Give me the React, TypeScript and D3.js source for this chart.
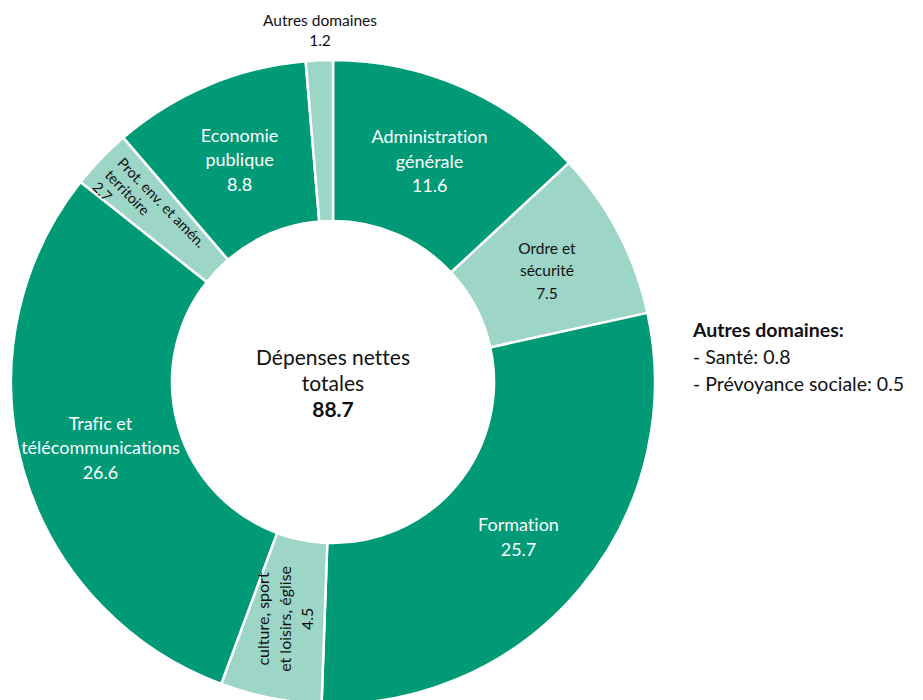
import * as d3 from 'd3'
import { useEffect, useRef } from 'react'

const categories = [
    'Administration générale',
    'Ordre et sécurité',
    'Formation',
    'culture, sport et loisirs, église',
    'Trafic et télécommunications',
    'Prot. env. et amén. territoire',
    'Economie publique',
    'Autres domaines',
]
const values = [11.6, 7.5, 25.7, 4.5, 26.6, 2.7, 8.8, 1.2]
const labelLines = [
    ['Administration', 'générale'],
    ['Ordre et', 'sécurité'],
    ['Formation'],
    ['culture, sport', 'et loisirs, église'],
    ['Trafic et', 'télécommunications'],
    ['Prot. env. et amén.', 'territoire'],
    ['Economie', 'publique'],
    ['Autres domaines'],
]
const lightSlices = ['Ordre et sécurité', 'culture, sport et loisirs, église', 'Prot. env. et amén. territoire', 'Autres domaines']
const totalLabel = ['Dépenses nettes', 'totales']
const totalValue = 88.7
const otherTitle = 'Autres domaines:'
const otherItems = ['Santé', 'Prévoyance sociale']
const otherValues = [0.8, 0.5]

const DARK = '#009a76'
const LIGHT = '#9dd5c7'
const FONT = 'Lato, "Open Sans", sans-serif'

const drawDonut = (el: SVGSVGElement) => {
    const svg = d3.select(el)
    svg.selectAll('*').remove()

    const cx = 333
    const cy = 382
    const outer = 322
    const inner = 161

    const g = svg.append('g').attr('transform', `translate(${cx},${cy})`)

    const data = categories.map((c, i) => ({ name: c, value: values[i], lines: labelLines[i] }))
    const pie = d3.pie<any>().sort(null).value(d => d.value)
    const arcs = pie(data)
    const arc = d3.arc<any>().innerRadius(inner).outerRadius(outer)

    g.selectAll('path.slice')
        .data(arcs)
        .enter()
        .append('path')
        .attr('class', 'slice')
        .attr('d', arc)
        .attr('fill', d => lightSlices.includes(d.data.name) ? LIGHT : DARK)
        .attr('stroke', '#fff')
        .attr('stroke-width', 2.5)

    arcs.forEach(a => {
        const name = a.data.name
        const isLight = lightSlices.includes(name)
        const color = isLight ? '#111' : '#fff'
        const lines = [...a.data.lines, d3.format('.1f')(a.data.value)]
        const [x, y] = arc.centroid(a)

        if (name === 'Autres domaines') {
            // outside label above the ring
            const t = g.append('text')
                .attr('text-anchor', 'middle')
                .attr('font-family', FONT)
                .attr('font-size', '15.5px')
                .attr('fill', '#111')
            lines.forEach((l, i) => {
                t.append('tspan').attr('x', -13).attr('y', 26 - cy + i * 20).text(l)
            })
            return
        }

        if (name === 'culture, sport et loisirs, église') {
            const t = g.append('text')
                .attr('transform', `translate(${x},${y}) rotate(-90)`)
                .attr('text-anchor', 'middle')
                .attr('dominant-baseline', 'central')
                .attr('font-family', FONT)
                .attr('font-size', '16px')
                .attr('fill', color)
            lines.forEach((l, i) => {
                t.append('tspan').attr('x', 0).attr('y', (i - 1) * 22 - 2).text(l)
            })
            return
        }

        if (name === 'Prot. env. et amén. territoire') {
            const angle = ((a.startAngle + a.endAngle) / 2) * 180 / Math.PI - 268
            const t = g.append('text')
                .attr('transform', `translate(${x},${y}) rotate(${angle})`)
                .attr('text-anchor', 'start')
                .attr('font-family', FONT)
                .attr('font-size', '14.5px')
                .attr('fill', color)
            lines.forEach((l, i) => {
                t.append('tspan').attr('x', -66).attr('y', -5 + i * 17.5).text(l)
            })
            return
        }

        const small = name === 'Ordre et sécurité'
        const lh = small ? 22.5 : 24.5
        const t = g.append('text')
            .attr('text-anchor', 'middle')
            .attr('dominant-baseline', 'central')
            .attr('font-family', FONT)
            .attr('font-size', small ? '15.5px' : '18px')
            .attr('fill', color)
        lines.forEach((l, i) => {
            t.append('tspan')
                .attr('x', x)
                .attr('y', y + (i - (lines.length - 1) / 2) * lh)
                .text(l)
        })
    })

    // total in the middle
    const c = g.append('text')
        .attr('text-anchor', 'middle')
        .attr('dominant-baseline', 'central')
        .attr('font-family', FONT)
        .attr('font-size', '21px')
        .attr('fill', '#111')
    totalLabel.forEach((l, i) => {
        c.append('tspan').attr('x', 0).attr('y', (i - 1) * 26).text(l)
    })
    c.append('tspan').attr('x', 0).attr('y', 26).attr('font-weight', 'bold').text(d3.format('.1f')(totalValue))

    // note on the right
    const note = svg.append('text')
        .attr('font-family', FONT)
        .attr('font-size', '19.5px')
        .attr('fill', '#111')
    note.append('tspan').attr('x', 693).attr('y', 337).attr('font-weight', 'bold').text(otherTitle)
    otherItems.forEach((item, i) => {
        note.append('tspan')
            .attr('x', 693)
            .attr('y', 364 + i * 27)
            .text(`- ${item}: ${d3.format('.1f')(otherValues[i])}`)
    })

    // no ligatures (ti, tt) like the original font
    svg.selectAll('text')
        .style('font-variant-ligatures', 'none')
        .style('font-feature-settings', '"liga" 0, "clig" 0')
}

const App = () => {
    const ref = useRef<SVGSVGElement>(null)

    useEffect(() => {
        document.body.style.margin = '0'
        if (ref.current) drawDonut(ref.current)
    }, [])

    return (
        <svg ref={ref} width={923} height={700} style={{ display: 'block', background: '#fff' }} />
    )
}

export default App
